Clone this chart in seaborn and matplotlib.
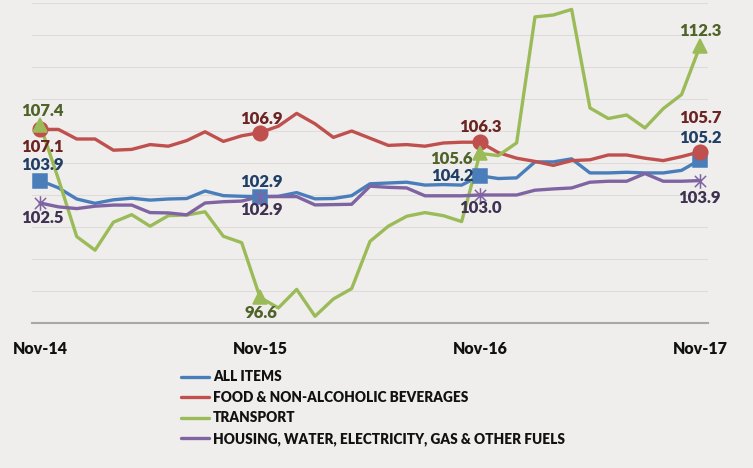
import pandas as pd
import matplotlib.pyplot as plt
import seaborn as sns
from matplotlib.lines import Line2D
from matplotlib.path import Path

# monthly index values, Nov-14 .. Nov-17
months = pd.date_range('2014-11-01', '2017-11-01', freq='MS').strftime('%b-%y').tolist()
tick_labels = ['Nov-14', 'Nov-15', 'Nov-16', 'Nov-17']
series_names = ['ALL ITEMS', 'FOOD & NON-ALCOHOLIC BEVERAGES', 'TRANSPORT',
                'HOUSING, WATER, ELECTRICITY, GAS & OTHER FUELS']

all_items = [103.9, 103.45, 102.75, 102.48, 102.7, 102.8, 102.68, 102.75, 102.78, 103.25,
             102.96, 102.92, 102.9, 102.92, 103.15, 102.76, 102.78, 102.96, 103.7, 103.75,
             103.8, 103.62, 103.65, 103.62, 104.2, 104.03, 104.07, 105.07, 105.07, 105.26,
             104.38, 104.38, 104.42, 104.38, 104.38, 104.54, 105.2]
food = [107.1, 107.1, 106.5, 106.5, 105.8, 105.85, 106.15, 106.05, 106.4, 106.95,
        106.35, 106.7, 106.9, 107.3, 108.1, 107.45, 106.6, 107.0, 106.55, 106.1,
        106.15, 106.05, 106.25, 106.3, 106.3, 105.65, 105.3, 105.1, 104.85, 105.15,
        105.2, 105.5, 105.5, 105.3, 105.15, 105.4, 105.7]
transport = [107.4, 104.0, 100.4, 99.55, 101.3, 101.77, 101.05, 101.71, 101.75, 101.95,
             100.42, 100.02, 96.6, 95.94, 97.1, 95.42, 96.5, 97.15, 100.1, 101.05,
             101.67, 101.9, 101.71, 101.34, 105.6, 105.46, 106.26, 114.13, 114.25, 114.6,
             108.44, 107.78, 108.0, 107.19, 108.4, 109.28, 112.3]
housing = [102.5, 102.26, 102.15, 102.3, 102.37, 102.37, 101.9, 101.88, 101.76, 102.5,
           102.58, 102.62, 102.9, 102.9, 102.9, 102.38, 102.4, 102.42, 103.55, 103.48,
           103.44, 102.95, 102.95, 102.95, 103.0, 103.0, 103.0, 103.3, 103.38, 103.44,
           103.8, 103.86, 103.86, 104.34, 103.86, 103.86, 103.9]

# Excel-style "star" marker: an X with a vertical bar
star = Path([(-1, -1), (1, 1), (-1, 1), (1, -1), (0, -1.3), (0, 1.3)],
            [Path.MOVETO, Path.LINETO, Path.MOVETO, Path.LINETO, Path.MOVETO, Path.LINETO])

line_colors = ['#4a7ebb', '#c0504d', '#9bbb59', '#8064a2']
label_colors = ['#1f3f66', '#6b2422', '#4f6228', '#3f3151']
markers = ['s', 'o', '^', star]
# label offsets in pixels (dx, dy) at Nov-14, Nov-15, Nov-16, Nov-17
offsets = [
    [(2, 16), (1, 15), (-28, 0), (0, 22)],
    [(2, -18), (1, 14), (0, 15), (0, 34)],
    [(2, 14), (1, -16), (-29, -6), (0, 15)],
    [(2, -15), (1, -13), (0, -13), (0, -17)],
]

bg = '#efeeec'
sns.set_style('white')
plt.rcParams['font.family'] = ['Lato', 'DejaVu Sans']

df = pd.DataFrame({'month': months, 'x': range(len(months)),
                   series_names[0]: all_items, series_names[1]: food,
                   series_names[2]: transport, series_names[3]: housing})
long = df.melt(id_vars=['month', 'x'], var_name='series', value_name='value')

fig = plt.figure(figsize=(7.53, 4.68), dpi=100, facecolor=bg)
ax = fig.add_axes([32 / 753, 1 - 323 / 468, 676 / 753, 320 / 468])
ax.set_facecolor(bg)

sns.lineplot(data=long, x='x', y='value', hue='series', hue_order=series_names,
             palette=dict(zip(series_names, line_colors)), linewidth=2.4,
             legend=False, ax=ax)

tick_pos = [months.index(t) for t in tick_labels]
for k, vals in enumerate([all_items, food, transport, housing]):
    ys = [vals[p] for p in tick_pos]
    ms = 10.5
    ax.plot(tick_pos, ys, linestyle='none', marker=markers[k], markersize=ms,
            color=line_colors[k], mec=line_colors[k], mew=1.1, zorder=3 + k)
    for p, y, (dx, dy) in zip(tick_pos, ys, offsets[k]):
        ax.annotate(f'{y:.1f}', (p, y), xytext=(dx, dy), textcoords='offset pixels',
                    ha='center', va='center', fontsize=12, fontweight='heavy',
                    color=label_colors[k], zorder=10)

ax.set_xlim(-0.44, 36.44)
ax.set_ylim(95, 115)
ax.set_yticks(range(95, 116, 2))
ax.set_yticklabels([])
ax.yaxis.grid(True, color='#dddcda', linewidth=0.8)
ax.set_axisbelow(True)
ax.set_xticks(tick_pos)
ax.set_xticklabels(tick_labels, fontsize=11.5, fontweight='heavy', color='#111111')
ax.tick_params(axis='x', length=0, pad=13)
ax.tick_params(axis='y', length=0)
ax.set_xlabel('')
ax.set_ylabel('')
for s in ['top', 'left', 'right']:
    ax.spines[s].set_visible(False)
ax.spines['bottom'].set_color('#a8a8a8')
ax.spines['bottom'].set_linewidth(1.5)

handles = [Line2D([0], [0], color=c, linewidth=2.4) for c in line_colors]
leg = fig.legend(handles, series_names, loc='upper left',
                 bbox_to_anchor=(176 / 753, 1 - 365 / 468), frameon=False,
                 prop={'weight': 'heavy', 'size': 9.8}, handlelength=2.0,
                 handletextpad=0.3, labelspacing=0.55, borderaxespad=0)
for t in leg.get_texts():
    t.set_color('#111111')

fig.savefig('out.png', dpi=100, facecolor=bg)
